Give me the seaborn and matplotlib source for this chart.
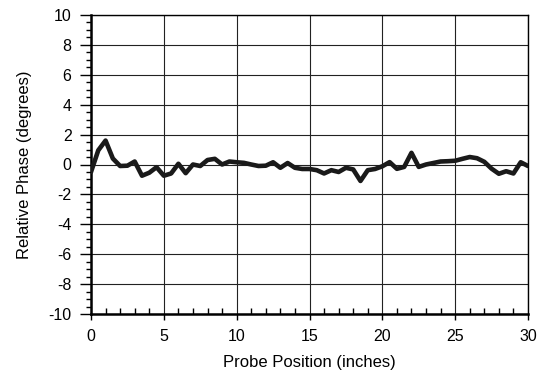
import matplotlib
matplotlib.use("Agg")
import matplotlib.pyplot as plt
from matplotlib.ticker import MultipleLocator
import numpy as np
import pandas as pd
import seaborn as sns

position = [0, 0.5, 1, 1.5, 2, 2.5, 3, 3.5, 4, 4.5, 5, 5.5, 6, 6.5, 7, 7.5, 8, 8.5, 9, 9.5,
            10, 10.5, 11, 11.5, 12, 12.5, 13, 13.5, 14, 14.5, 15, 15.5, 16, 16.5, 17, 17.5,
            18, 18.5, 19, 19.5, 20, 20.5, 21, 21.5, 22, 22.5, 23, 23.5, 24, 24.5, 25, 25.5,
            26, 26.5, 27, 27.5, 28, 28.5, 29, 29.5, 30]
phase = [-0.5, 0.95, 1.6, 0.4, -0.1, -0.08, 0.2, -0.75, -0.55, -0.18, -0.75, -0.6, 0.05, -0.58,
         0.0, -0.1, 0.3, 0.38, 0.0, 0.2, 0.15, 0.11, 0.0, -0.1, -0.08, 0.15, -0.22, 0.1, -0.22,
         -0.3, -0.3, -0.38, -0.6, -0.38, -0.5, -0.22, -0.33, -1.1, -0.38, -0.3, -0.12, 0.16,
         -0.29, -0.16, 0.78, -0.16, 0.0, 0.1, 0.2, 0.22, 0.25, 0.38, 0.5, 0.42, 0.18, -0.28,
         -0.62, -0.45, -0.6, 0.15, -0.1]
xticks = [0, 5, 10, 15, 20, 25, 30]
yticks = [10, 8, 6, 4, 2, 0, -2, -4, -6, -8, -10]

sns.set_theme(style="white")
plt.rcParams['font.family'] = ['Liberation Sans', 'DejaVu Sans']

df = pd.DataFrame({"pos": position, "phase": phase})
fig = plt.figure(figsize=(5.44, 3.75), dpi=100)
ax = fig.add_axes([91/544, 1 - 314/375, (528 - 91)/544, (314 - 15)/375])

ax.set_xlim(0, 30)
ax.set_ylim(-10, 10)
ax.set_xticks(xticks)
ax.set_yticks(yticks)
ax.set_xticklabels([str(t) for t in xticks])
ax.set_yticklabels([str(t) for t in yticks])
ax.xaxis.set_minor_locator(MultipleLocator(1))
ax.yaxis.set_minor_locator(MultipleLocator(0.5))
ax.grid(True, which='major', color='#222222', linewidth=0.8)
ax.set_axisbelow(True)

sns.lineplot(data=df, x="pos", y="phase", ax=ax, color='#1a1a1a', linewidth=3.3, zorder=3)

for side in ['top', 'right']:
    ax.spines[side].set_color('black')
    ax.spines[side].set_linewidth(1.0)
for side in ['left', 'bottom']:
    ax.spines[side].set_color('black')
    ax.spines[side].set_linewidth(1.8)

ax.tick_params(axis='x', which='major', direction='out', length=4.5, width=1, color='black',
               bottom=True, labelsize=11.5, pad=6, labelcolor='black')
ax.tick_params(axis='x', which='minor', direction='in', length=4, width=1, color='black', bottom=True)
ax.tick_params(axis='y', which='major', direction='out', length=8, width=1, color='black',
               left=True, labelsize=11.5, pad=6, labelcolor='black')
ax.tick_params(axis='y', which='minor', direction='out', length=3.5, width=1, color='black', left=True)

ax.set_xlabel("Probe Position (inches)", fontsize=12, color='black', labelpad=8)
ax.set_ylabel("Relative Phase (degrees)", fontsize=12, color='black', labelpad=12)

fig.savefig("out.png", dpi=100, facecolor='white')
